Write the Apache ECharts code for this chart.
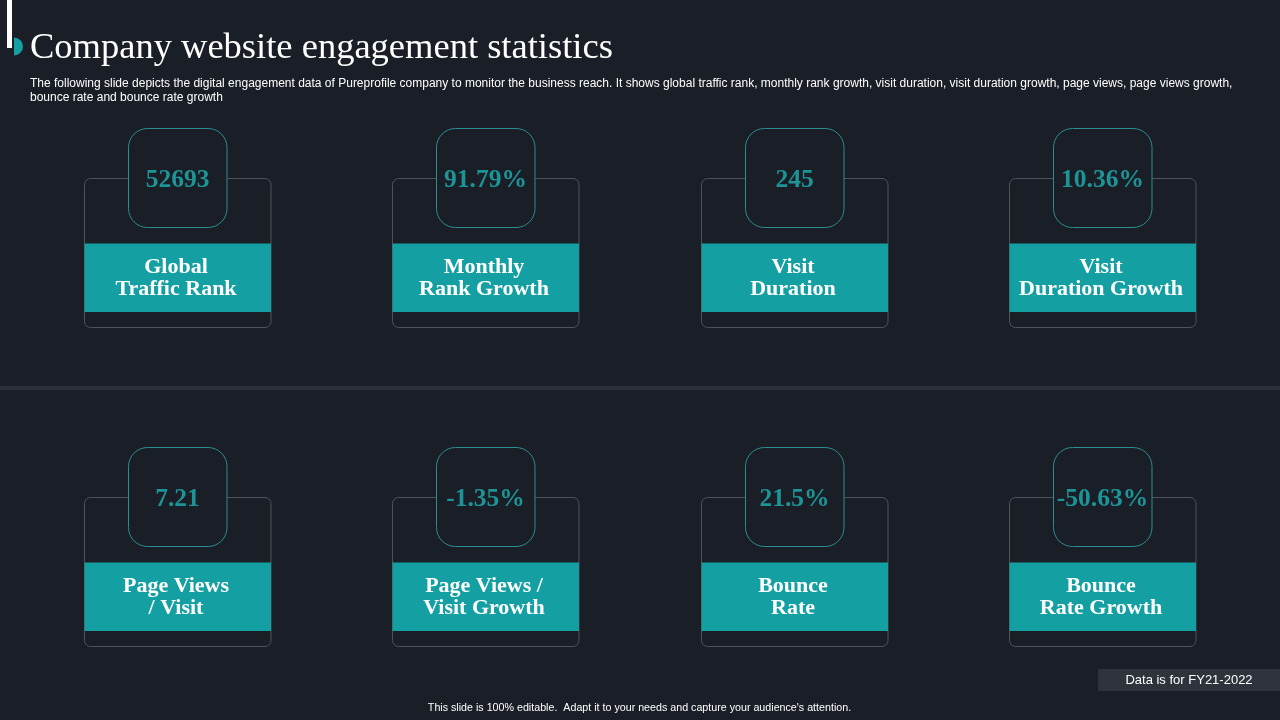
<!DOCTYPE html>
<html>
<head>
<meta charset="utf-8">
<title>Company website engagement statistics</title>
<script src="https://cdn.jsdelivr.net/npm/echarts@6/dist/echarts.min.js"></script>
<style>
  html, body { margin: 0; padding: 0; background: #1a1e27; }
  #chart { width: 1280px; height: 720px; }
</style>
</head>
<body>
<div id="chart"></div>
<script>
const columns = ['c1', 'c2', 'c3', 'c4'];
const rows = ['top', 'bottom'];
const metricValues = ['52693', '91.79%', '245', '10.36%', '7.21', '-1.35%', '21.5%', '-50.63%'];
const metricLabels = [
  'Global\nTraffic Rank', 'Monthly\nRank Growth', 'Visit\nDuration', 'Visit\nDuration Growth',
  'Page Views\n/ Visit', 'Page Views /\nVisit Growth', 'Bounce\nRate', 'Bounce\nRate Growth'
];
const titleText = 'Company website engagement statistics';
const introText = 'The following slide depicts the digital engagement data of Pureprofile company to monitor the business reach. It shows global traffic rank, monthly rank growth, visit duration, visit duration growth, page views, page views growth,\nbounce rate and bounce rate growth';
const footerText = "This slide is 100% editable.  Adapt it to your needs and capture your audience's attention.";
const noteText = 'Data is for FY21-2022';

const BG = '#1a1e27';
const TEAL = '#14a0a2';
const SERIF = '"Liberation Serif", "DejaVu Serif", serif';
const SANS = '"Liberation Sans", Arial, sans-serif';

function renderCard(params, api) {
  const p = api.coord([api.value(0), api.value(1)]);
  const i = params.dataIndex;
  const cx = Math.round(p[0]) + 0.5;
  const cy = Math.round(p[1]) + 0.5;
  return {
    type: 'group',
    children: [
      { type: 'rect', shape: { x: cx - 93, y: cy, width: 186.5, height: 149, r: 6 },
        style: { fill: 'none', stroke: '#4f5359', lineWidth: 1 } },
      { type: 'rect', shape: { x: cx - 93, y: cy + 65, width: 186.5, height: 68.5 },
        style: { fill: TEAL } },
      { type: 'rect', shape: { x: cx - 49, y: cy - 50, width: 98.5, height: 99, r: 19 },
        style: { fill: BG, stroke: '#2b8e90', lineWidth: 1 } },
      { type: 'text', x: cx, y: cy + 2,
        style: { text: metricValues[i], fill: '#1d9496', font: 'bold 25.5px ' + SERIF,
          align: 'center', verticalAlign: 'middle' } },
      { type: 'text', x: cx - 1.5, y: cy + 100,
        style: { text: metricLabels[i], fill: '#ffffff', font: 'bold 22px ' + SERIF, lineHeight: 22,
          align: 'center', verticalAlign: 'middle',
          shadowColor: 'rgba(0,0,0,0.8)', shadowBlur: 2, shadowOffsetX: 1, shadowOffsetY: 1 } }
    ]
  };
}

const cardData = metricValues.map((v, i) => [i % 4, Math.floor(i / 4)]);

const chart = echarts.init(document.getElementById('chart'));
chart.setOption({
  backgroundColor: BG,
  animation: false,
  title: {
    text: titleText, left: 25, top: 25,
    textStyle: { color: '#ffffff', fontFamily: SERIF, fontWeight: 'normal', fontSize: 36.5 }
  },
  grid: { left: 23, top: 18.5, width: 1233.3, height: 638 },
  xAxis: { type: 'category', data: columns, show: false },
  yAxis: { type: 'category', data: rows, inverse: true, show: false },
  graphic: [
    { type: 'rect', shape: { x: 7, y: 0, width: 5, height: 48 }, style: { fill: '#ffffff' } },
    { type: 'sector', shape: { cx: 14, cy: 46.5, r: 9, startAngle: -Math.PI / 2, endAngle: Math.PI / 2 },
      style: { fill: TEAL } },
    { type: 'text', x: 30, y: 76,
      style: { text: introText, fill: '#ffffff', font: '12px ' + SANS, lineHeight: 14.5 } },
    { type: 'rect', shape: { x: 0, y: 386, width: 1280, height: 4 }, style: { fill: '#2c3038' } },
    { type: 'rect', shape: { x: 1098, y: 669, width: 182, height: 22 }, style: { fill: '#2f333b' } },
    { type: 'text', x: 1189, y: 680.5,
      style: { text: noteText, fill: '#ffffff', font: '13px ' + SANS, align: 'center', verticalAlign: 'middle' } },
    { type: 'text', x: 639.5, y: 708,
      style: { text: footerText, fill: '#ffffff', font: '10.7px ' + SANS, align: 'center', verticalAlign: 'middle' } }
  ],
  series: [{
    type: 'custom',
    silent: true,
    coordinateSystem: 'cartesian2d',
    clip: false,
    data: cardData,
    renderItem: renderCard
  }]
});
</script>
</body>
</html>
